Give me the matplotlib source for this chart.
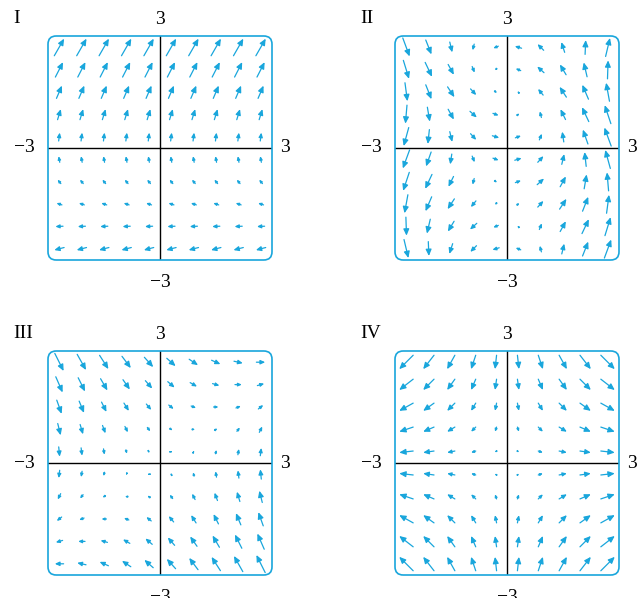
import numpy as np
import matplotlib
matplotlib.use("Agg")
import matplotlib.pyplot as plt
from matplotlib.patches import FancyBboxPatch, FancyArrowPatch


# =====================================
# DATA
# =====================================

# grid positions of arrows (same for x and y)
XS = [-2.7, -2.1, -1.5, -0.9, -0.3, 0.3, 0.9, 1.5, 2.1, 2.7]
YS = [-2.7, -2.1, -1.5, -0.9, -0.3, 0.3, 0.9, 1.5, 2.1, 2.7]

# Panel I : components constant along each row
I_U_ROWS = [-2.7, -2.1, -1.5, -0.9, -0.3, 0.3, 0.9, 1.5, 2.1, 2.7]
I_V_ROWS = [-0.7, -0.1, 0.5, 1.1, 1.7, 2.3, 2.9, 3.5, 4.1, 4.7]

# Panel II : u table (rows = y bottom->top), v constant along columns
II_U = [
    [0.64, 0.09, -0.49, -0.90, -0.99, -0.74, -0.23, 0.36, 0.83, 1.00],
    [0.09, -0.49, -0.90, -0.99, -0.74, -0.23, 0.36, 0.83, 1.00, 0.83],
    [-0.49, -0.90, -0.99, -0.74, -0.23, 0.36, 0.83, 1.00, 0.83, 0.36],
    [-0.90, -0.99, -0.74, -0.23, 0.36, 0.83, 1.00, 0.83, 0.36, -0.23],
    [-0.99, -0.74, -0.23, 0.36, 0.83, 1.00, 0.83, 0.36, -0.23, -0.74],
    [-0.74, -0.23, 0.36, 0.83, 1.00, 0.83, 0.36, -0.23, -0.74, -0.99],
    [-0.23, 0.36, 0.83, 1.00, 0.83, 0.36, -0.23, -0.74, -0.99, -0.90],
    [0.36, 0.83, 1.00, 0.83, 0.36, -0.23, -0.74, -0.99, -0.90, -0.49],
    [0.83, 1.00, 0.83, 0.36, -0.23, -0.74, -0.99, -0.90, -0.49, 0.09],
    [1.00, 0.83, 0.36, -0.23, -0.74, -0.99, -0.90, -0.49, 0.09, 0.64],
]
II_V_COLS = [-2.7, -2.1, -1.5, -0.9, -0.3, 0.3, 0.9, 1.5, 2.1, 2.7]

# Panel III : u constant along rows, v table
III_U_ROWS = [-2.7, -2.1, -1.5, -0.9, -0.3, 0.3, 0.9, 1.5, 2.1, 2.7]
III_V = [
    [0.0, 0.6, 1.2, 1.8, 2.4, 3.0, 3.6, 4.2, 4.8, 5.4],
    [-0.6, 0.0, 0.6, 1.2, 1.8, 2.4, 3.0, 3.6, 4.2, 4.8],
    [-1.2, -0.6, 0.0, 0.6, 1.2, 1.8, 2.4, 3.0, 3.6, 4.2],
    [-1.8, -1.2, -0.6, 0.0, 0.6, 1.2, 1.8, 2.4, 3.0, 3.6],
    [-2.4, -1.8, -1.2, -0.6, 0.0, 0.6, 1.2, 1.8, 2.4, 3.0],
    [-3.0, -2.4, -1.8, -1.2, -0.6, 0.0, 0.6, 1.2, 1.8, 2.4],
    [-3.6, -3.0, -2.4, -1.8, -1.2, -0.6, 0.0, 0.6, 1.2, 1.8],
    [-4.2, -3.6, -3.0, -2.4, -1.8, -1.2, -0.6, 0.0, 0.6, 1.2],
    [-4.8, -4.2, -3.6, -3.0, -2.4, -1.8, -1.2, -0.6, 0.0, 0.6],
    [-5.4, -4.8, -4.2, -3.6, -3.0, -2.4, -1.8, -1.2, -0.6, 0.0],
]

# Panel IV : u constant along columns, v constant along rows
IV_U_COLS = [-2.7, -2.1, -1.5, -0.9, -0.3, 0.3, 0.9, 1.5, 2.1, 2.7]
IV_V_ROWS = [2.7, 2.1, 1.5, 0.9, 0.3, -0.3, -0.9, -1.5, -2.1, -2.7]

LABELS = ["I", "II", "III", "IV"]


# =====================================
# SETTINGS
# =====================================

W, H = 643, 598
ARROW_COLOR = "#19a6dc"
FONT = "Liberation Serif"

# box positions in pixels: left, top
BOXES = [(48, 36), (395, 36), (48, 351), (395, 351)]
BOX_SIZE = 224
CELL = 0.6

# points per data unit (box is 6 units wide)
PT_PER_UNIT = BOX_SIZE / 6 * 0.72


# =====================================
# BUILD FIELDS
# =====================================

n = len(XS)
X, Y = np.meshgrid(XS, YS)

rows = lambda v: np.repeat(np.array(v)[:, None], n, axis=1)
cols = lambda v: np.repeat(np.array(v)[None, :], n, axis=0)

fields = [
    (rows(I_U_ROWS), rows(I_V_ROWS)),
    (np.array(II_U), cols(II_V_COLS)),
    (rows(III_U_ROWS), np.array(III_V)),
    (cols(IV_U_COLS), rows(IV_V_ROWS)),
]


# =====================================
# DRAW
# =====================================

fig = plt.figure(figsize=(W / 100, H / 100), dpi=100)

for k, (U, V) in enumerate(fields):

    left, top = BOXES[k]

    ax = fig.add_axes([
        left / W,
        1 - (top + BOX_SIZE) / H,
        BOX_SIZE / W,
        BOX_SIZE / H
    ])

    ax.set_xlim(-3, 3)
    ax.set_ylim(-3, 3)
    ax.axis("off")

    # axes lines
    ax.plot([-3, 3], [0, 0], color="black", lw=1.0, zorder=1)
    ax.plot([0, 0], [-3, 3], color="black", lw=1.0, zorder=1)

    # arrows centred on grid points, longest fits a grid cell
    mag = np.sqrt(U ** 2 + V ** 2).max()
    s = 0.88 * CELL / mag

    for x, y, u, v in zip(X.ravel(), Y.ravel(), U.ravel(), V.ravel()):
        du, dv = u * s, v * s
        length_pt = np.hypot(du, dv) * PT_PER_UNIT
        if length_pt < 0.5:
            ax.plot(x, y, "o", ms=1.6, color=ARROW_COLOR, zorder=3)
            continue

        # head shrinks together with short arrows
        hl = min(0.38, 0.42 * length_pt / 10)
        hw = hl * 0.45
        arr = FancyArrowPatch(
            (x - du / 2, y - dv / 2),
            (x + du / 2, y + dv / 2),
            arrowstyle=f"-|>,head_length={hl:.3f},head_width={hw:.3f}",
            mutation_scale=10,
            shrinkA=0,
            shrinkB=0,
            color=ARROW_COLOR,
            lw=0.9,
            zorder=3
        )
        ax.add_patch(arr)

    box = FancyBboxPatch(
        (-3, -3), 6, 6,
        boxstyle="round,pad=0,rounding_size=0.22",
        facecolor="none",
        edgecolor=ARROW_COLOR,
        lw=1.2,
        clip_on=False,
        zorder=4
    )
    ax.add_patch(box)

    txt = dict(fontsize=14, family=FONT, clip_on=False,
               ha="center", va="center")

    ax.text(0, 3.45, "3", **txt)
    ax.text(0, -3.6, "\u22123", **txt)
    ax.text(-3.62, 0.0, "\u22123", **txt)
    ax.text(3.35, 0.0, "3", **txt)

    ax.text(-3.94, 3.48, LABELS[k], fontsize=14, family=FONT,
            ha="left", va="center", clip_on=False)

fig.savefig("out.png", dpi=100)
